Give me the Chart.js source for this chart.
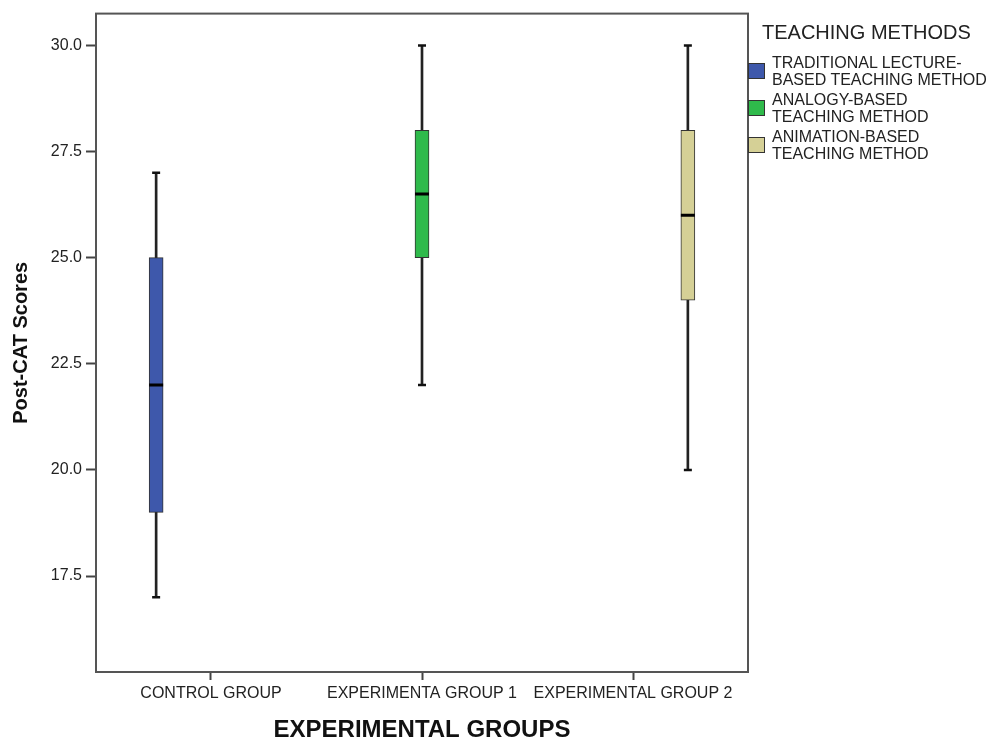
<!DOCTYPE html>
<html>
<head>
<meta charset="utf-8">
<script src="https://cdn.jsdelivr.net/npm/chart.js@4"></script>
<style>
  body { margin: 0; background: #fff; font-family: 'Liberation Sans', Arial, sans-serif; }
  #wrap { position: relative; width: 990px; height: 740px; }
  #legend { position: absolute; left: 748px; top: 20px; color: #222; }
  #legend .title { font-size: 20px; margin-left: 14px; line-height: 24px; margin-bottom: 10px; }
  #legend .item { display: flex; align-items: center; margin-bottom: 3px; }
  #legend .sw { width: 15px; height: 14px; border: 1px solid #333; margin-right: 7px; flex: none; }
  #legend .txt { font-size: 16px; line-height: 17px; }
</style>
</head>
<body>
<div id="wrap">
  <canvas id="box-chart" width="990" height="740"></canvas>
  <div id="legend"></div>
</div>
<script>
// Datos del diagrama de cajas
const groups = ['CONTROL GROUP', 'EXPERIMENTA GROUP 1', 'EXPERIMENTAL GROUP 2'];
const methods = ['TRADITIONAL LECTURE-BASED TEACHING METHOD', 'ANALOGY-BASED TEACHING METHOD', 'ANIMATION-BASED TEACHING METHOD'];
const methodLines = [['TRADITIONAL LECTURE-', 'BASED TEACHING METHOD'], ['ANALOGY-BASED', 'TEACHING METHOD'], ['ANIMATION-BASED', 'TEACHING METHOD']];
const mins = [17, 22, 20];
const q1s = [19, 25, 24];
const medians = [22, 26.5, 26];
const q3s = [25, 28, 28];
const maxs = [27, 30, 30];
const yTicks = [17.5, 20, 22.5, 25, 27.5, 30];
const colors = ['#3e58ab', '#2fba4b', '#d5d096'];

const FONT = "'Liberation Sans', Arial, sans-serif";
const slot = 0.26; // desplazamiento dentro del grupo (cajas agrupadas)

function posFor(i) {
  // grupo i, caja del metodo i
  return (i + 1) + (i - 1) * slot;
}

const datasets = [];
methods.forEach((m, i) => {
  const x = posFor(i);
  datasets.push({
    type: 'bar',
    label: m,
    data: [{ x: x, y: [q1s[i], q3s[i]] }],
    backgroundColor: colors[i],
    borderColor: '#333',
    borderWidth: 1,
    borderSkipped: false,
    barThickness: 14,
    grouped: false,
    order: 1
  });
  datasets.push({
    type: 'bar',
    label: 'whisker',
    data: [{ x: x, y: [mins[i], maxs[i]] }],
    backgroundColor: '#222',
    barThickness: 2,
    grouped: false,
    order: 2
  });
  datasets.push({
    type: 'scatter',
    label: 'caps',
    data: [{ x: x, y: mins[i] }, { x: x, y: maxs[i] }],
    pointStyle: 'line',
    pointRadius: 4,
    pointHoverRadius: 4,
    borderColor: '#111',
    borderWidth: 2.5,
    order: 0
  });
  datasets.push({
    type: 'scatter',
    label: 'median',
    data: [{ x: x, y: medians[i] }],
    pointStyle: 'line',
    pointRadius: 7,
    pointHoverRadius: 7,
    borderColor: '#000',
    borderWidth: 3,
    order: 0
  });
});

const framePlugin = {
  id: 'frame',
  afterDraw(chart) {
    const a = chart.chartArea;
    const ctx = chart.ctx;
    ctx.save();
    ctx.strokeStyle = '#555';
    ctx.lineWidth = 2;
    ctx.strokeRect(a.left, a.top, a.right - a.left, a.bottom - a.top);
    ctx.restore();
  }
};

new Chart(document.getElementById('box-chart'), {
  type: 'bar',
  data: { datasets: datasets },
  options: {
    responsive: false,
    animation: false,
    layout: { padding: { left: 0, right: 242, top: 12, bottom: 0 } },
    plugins: {
      legend: { display: false },
      tooltip: { enabled: false }
    },
    scales: {
      x: {
        type: 'linear',
        offset: false,
        min: 0.455,
        max: 3.545,
        afterBuildTicks(s) { s.ticks = groups.map((g, i) => ({ value: i + 1 })); },
        afterFit(s) { s.height = 68; },
        ticks: {
          callback: v => groups[v - 1],
          color: '#222',
          font: { family: FONT, size: 16 },
          padding: 4,
          maxRotation: 0,
          autoSkip: false
        },
        grid: { drawOnChartArea: false, offset: false, tickLength: 8, color: '#444', tickWidth: 2 },
        border: { display: false },
        title: {
          display: true,
          text: 'EXPERIMENTAL GROUPS',
          color: '#111',
          font: { family: FONT, size: 24, weight: 'bold', lineHeight: 0.8 },
          padding: { top: 0, bottom: 0 }
        }
      },
      y: {
        min: 15.24,
        max: 30.75,
        afterBuildTicks(s) { s.ticks = yTicks.map(v => ({ value: v })); },
        afterFit(s) { s.width = 96; },
        ticks: {
          callback: v => v.toFixed(1),
          color: '#222',
          font: { family: FONT, size: 16 },
          padding: 4
        },
        grid: { drawOnChartArea: false, tickLength: 10, color: '#444', tickWidth: 2 },
        border: { display: false },
        title: {
          display: true,
          text: 'Post-CAT Scores',
          color: '#111',
          font: { family: FONT, size: 20, weight: 'bold', lineHeight: 1 },
          padding: { top: 11, bottom: 0 }
        }
      }
    }
  },
  plugins: [framePlugin]
});

// Leyenda HTML (etiquetas de dos lineas)
const legend = document.getElementById('legend');
let html = '<div class="title">TEACHING METHODS</div>';
methods.forEach((m, i) => {
  html += '<div class="item"><div class="sw" style="background:' + colors[i] + '"></div>' +
    '<div class="txt">' + methodLines[i].join('<br>') + '</div></div>';
});
legend.innerHTML = html;
</script>
</body>
</html>
